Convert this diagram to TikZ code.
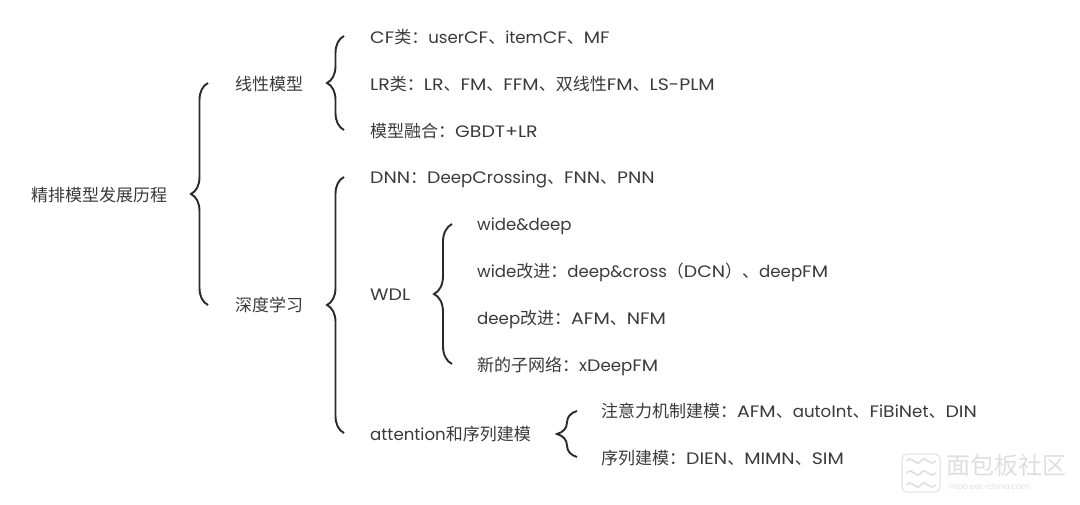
\documentclass[tikz,border=0pt]{standalone}
\usepackage{fontspec}
\setmainfont{Poppins}
\newfontfamily\cjk{Noto Sans CJK SC}
\newfontfamily\wideletters[FakeStretch=1.14]{Poppins}
\usetikzlibrary{decorations.pathreplacing}

\definecolor{labelgray}{HTML}{3A3A3A}
\definecolor{bracegray}{HTML}{2A2A2A}
\definecolor{markgray}{HTML}{DEDEDE}

\newcommand{\zh}[1]{{\cjk\fontsize{17}{18}\selectfont #1}}
\newcommand{\up}[1]{{\wideletters #1}}

\tikzset{
  label text/.style={anchor=west,inner sep=0,text=labelgray,font=\fontsize{16.6}{18}\selectfont,text height=12pt,text depth=3pt},
  curly/.style={draw=bracegray,line width=1.9pt,decorate,decoration={brace,amplitude=#1}},
  curly/.default=17pt,
  mark line/.style={draw=markgray,line width=1.6pt,line cap=round}
}

\begin{document}
\begin{tikzpicture}[x=1pt,y=-1pt]
  \useasboundingbox (0,0) rectangle (1080,504);

  % first level
  \node[label text] (root) at (31,197) {\zh{精排模型发展历程}};
  \node[label text] (linear) at (235,86) {\zh{线性模型}};
  \node[label text] (deep) at (235,307) {\zh{深度学习}};

  % linear models
  \node[label text] (cf) at (370,39) {\up{CF}\zh{类：}user\up{CF}\zh{、}item\up{CF}\zh{、}\up{MF}};
  \node[label text] (lr) at (370,86) {\up{LR}\zh{类：}\up{LR}\zh{、}\up{FM}\zh{、}\up{FFM}\zh{、双线性}\up{FM}\zh{、}\up{LS-PLM}};
  \node[label text] (gbdt) at (370,133) {\zh{模型融合：}\up{GBDT+LR}};

  % deep learning
  \node[label text] (dnn) at (370,179) {\up{DNN}\zh{：}\up{D}eep\up{C}rossing\zh{、}\up{FNN}\zh{、}\up{PNN}};
  \node[label text] (wdl) at (370,296) {\up{WDL}};
  \node[label text] (attn) at (370,436) {attention\zh{和序列建模}};

  % wdl
  \node[label text] (wd) at (477,226) {wide\&deep};
  \node[label text] (wide) at (477,273) {wide\zh{改进：}deep\&cross\zh{（}\up{DCN}\zh{）、}deep\up{FM}};
  \node[label text] (deepfix) at (477,320) {deep\zh{改进：}\up{AFM}\zh{、}\up{NFM}};
  \node[label text] (subnet) at (477,367) {\zh{新的子网络：}x\up{D}eep\up{FM}};

  % attention
  \node[label text] (att) at (601,413) {\zh{注意力机制建模：}\up{AFM}\zh{、}auto\up{I}nt\zh{、}\up{F}i\up{B}i\up{N}et\zh{、}\up{DIN}};
  \node[label text] (seq) at (601,460) {\zh{序列建模：}\up{DIEN}\zh{、}\up{MIMN}\zh{、}\up{SIM}};

  % brace ends
  \coordinate (b1t) at (208,83);
  \coordinate (b1b) at (208,305);
  \coordinate (b2t) at (344,36);
  \coordinate (b2b) at (344,130);
  \coordinate (b3t) at (344,177);
  \coordinate (b3b) at (344,433);
  \coordinate (b4t) at (452,224);
  \coordinate (b4b) at (452,364);
  \coordinate (b5t) at (577,411);
  \coordinate (b5b) at (577,457);

  \draw[curly] (b1b) -- (b1t);
  \draw[curly] (b2b) -- (b2t);
  \draw[curly] (b3b) -- (b3t);
  \draw[curly=18pt] (b4b) -- (b4t);
  \draw[curly=20pt] (b5b) -- (b5t);

  % watermark
  \node[draw=markgray,line width=1pt,rounded corners=5pt,minimum size=38pt,inner sep=0] (logo) at (921,473) {};
  \foreach \y in {461,473,485}
    \draw[mark line] (907,\y) .. controls (912,\y-7) and (916,\y+7) .. (921,\y)
      .. controls (926,\y-7) and (930,\y+7) .. (935,\y);
  \node[anchor=west,inner sep=0,text=markgray,font=\cjk\fontsize{24}{26}\selectfont] (mark) at (946,465) {面包板社区};
  \node[anchor=west,inner sep=0,text=markgray,font=\fontsize{8}{10}\selectfont] (site) at (949,486) {mbb.eet-china.com};
\end{tikzpicture}
\end{document}
